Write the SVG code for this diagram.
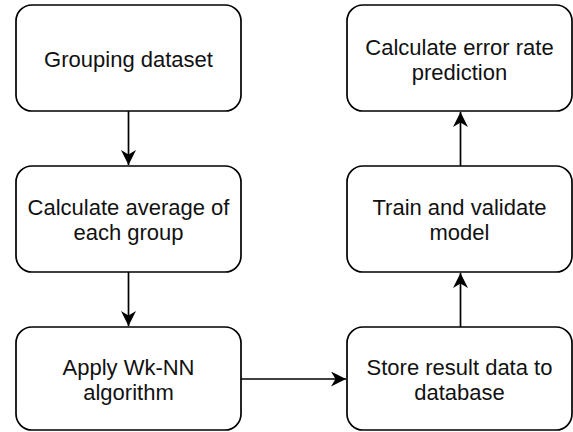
<svg xmlns="http://www.w3.org/2000/svg" width="573" height="432" viewBox="0 0 573 432">
<style>
.box{fill:#fff;stroke:#000;stroke-width:1.7}
.t{font-family:"Liberation Sans",Arial,sans-serif;font-size:22px;fill:#111;text-anchor:middle}
.c{stroke:#000;stroke-width:1.7;fill:none}
</style>
<defs>
<marker id="ah" viewBox="0 0 15 15" refX="15" refY="7.5" markerWidth="15" markerHeight="15" markerUnits="userSpaceOnUse" orient="auto">
<path d="M0,0 L15,7.5 L0,15 L4.5,7.5 Z" fill="#000"/>
</marker>
</defs>
<rect width="573" height="432" fill="#fff"/>
<g id="n1"><rect class="box" x="16" y="5" width="225" height="106" rx="16"/><text class="t" x="128.5" y="67">Grouping dataset</text></g>
<g id="n2"><rect class="box" x="16" y="166" width="225" height="106" rx="16"/><text class="t" x="128.5" y="215">Calculate average of</text><text class="t" x="128.5" y="240">each group</text></g>
<g id="n3"><rect class="box" x="16" y="327" width="225" height="103" rx="16"/><text class="t" x="128.5" y="375">Apply Wk-NN</text><text class="t" x="128.5" y="400">algorithm</text></g>
<g id="n4"><rect class="box" x="347" y="327" width="225" height="103" rx="16"/><text class="t" x="459.5" y="375">Store result data to</text><text class="t" x="459.5" y="400">database</text></g>
<g id="n5"><rect class="box" x="347" y="166" width="225" height="106" rx="16"/><text class="t" x="459.5" y="215">Train and validate</text><text class="t" x="459.5" y="240">model</text></g>
<g id="n6"><rect class="box" x="347" y="5" width="225" height="106" rx="16"/><text class="t" x="459.5" y="55">Calculate error rate</text><text class="t" x="459.5" y="80">prediction</text></g>
<g id="connectors">
<line class="c" x1="128.5" y1="111" x2="128.5" y2="165" marker-end="url(#ah)"/>
<line class="c" x1="128.5" y1="272" x2="128.5" y2="326" marker-end="url(#ah)"/>
<line class="c" x1="241" y1="379" x2="346" y2="379" marker-end="url(#ah)"/>
<line class="c" x1="460.5" y1="327" x2="460.5" y2="273" marker-end="url(#ah)"/>
<line class="c" x1="460.5" y1="166" x2="460.5" y2="112" marker-end="url(#ah)"/>
</g>
</svg>
